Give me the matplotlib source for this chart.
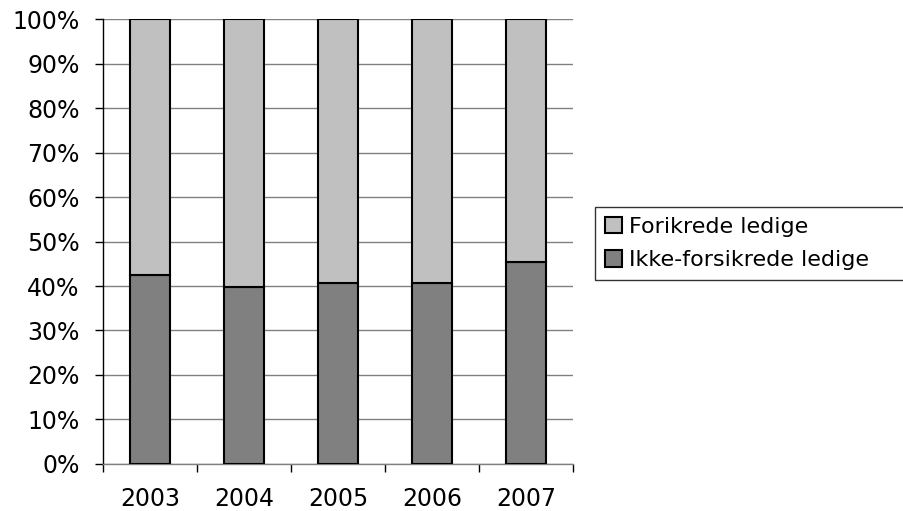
import matplotlib
matplotlib.use("Agg")
import matplotlib.pyplot as plt
import numpy as np

years = ["2003", "2004", "2005", "2006", "2007"]
ikke_forsikrede = [42.5, 39.7, 40.6, 40.6, 45.5]
forsikrede = [100 - v for v in ikke_forsikrede]
y_ticks = list(range(0, 101, 10))

plt.rcParams["font.family"] = ["DejaVu Sans"]
plt.rcParams["font.size"] = 17

fig = plt.figure(figsize=(9.04, 5.11), dpi=100)
ax = fig.add_axes([103 / 904, 1 - 463.7 / 511, 470 / 904, 444.2 / 511])

x = np.arange(len(years))
w = 0.42
dark = "#808080"
light = "#C0C0C0"
ax.bar(x, ikke_forsikrede, w, color=dark, edgecolor="black", linewidth=1.5,
       label="Ikke-forsikrede ledige", zorder=3)
ax.bar(x, forsikrede, w, bottom=ikke_forsikrede, color=light, edgecolor="black",
       linewidth=1.5, label="Forikrede ledige", zorder=3)

ax.set_xlim(-0.5, len(years) - 0.5)
ax.set_ylim(0, 100)
ax.set_yticks(y_ticks)
ax.set_yticklabels([f"{t}%" for t in y_ticks])
ax.yaxis.grid(True, color="#808080", linewidth=1.0, zorder=0)

ax.set_xticks(x)
ax.set_xticklabels(years)
ax.set_xticks(np.arange(len(years) + 1) - 0.5, minor=True)
ax.tick_params(axis="x", which="major", length=0, pad=17)
ax.tick_params(axis="x", which="minor", length=6, width=1, color="black")
ax.tick_params(axis="y", length=6, width=1, pad=11)

for s in ["top", "right"]:
    ax.spines[s].set_visible(False)
ax.spines["left"].set_color("black")
ax.spines["bottom"].set_color("#808080")
ax.spines["left"].set_linewidth(1.0)
ax.spines["bottom"].set_linewidth(1.0)

# legend box runs past the right edge of the figure
handles, labels = ax.get_legend_handles_labels()
leg = fig.legend(handles[::-1], labels[::-1], loc="upper left",
                 bbox_to_anchor=(595 / 904, 1 - 207 / 511, 400 / 904, 0),
                 mode="expand",
                 frameon=True, fancybox=False, edgecolor="black",
                 handlelength=0.75, handleheight=0.75, handletextpad=0.35,
                 labelspacing=0.6, borderpad=0.45, borderaxespad=0,
                 fontsize=16)
leg.get_frame().set_linewidth(1.0)

fig.savefig("out.png", dpi=100)
